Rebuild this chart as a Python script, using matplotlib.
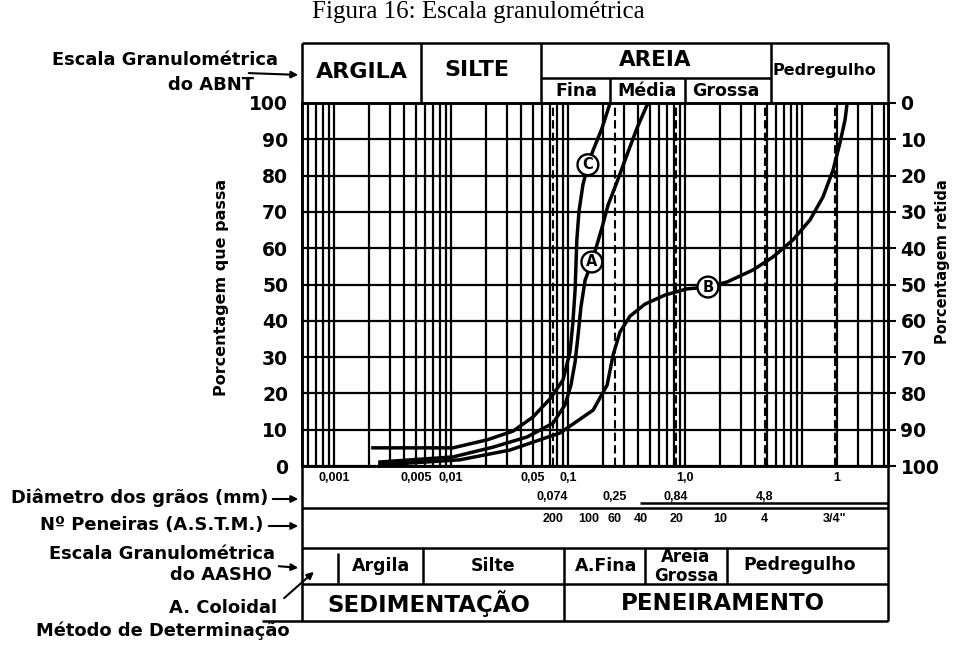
import numpy as np
import matplotlib.pyplot as plt
from matplotlib.ticker import LogLocator, NullFormatter
from matplotlib.transforms import blended_transform_factory

plt.rcParams['font.family'] = ['DejaVu Sans']

W, H = 956, 645

# curvas granulometricas (diametro em mm, % que passa)
diam_a = [0.00247, 0.0104, 0.0229, 0.0447, 0.0744, 0.0942, 0.106, 0.115, 0.122,
          0.129, 0.140, 0.160, 0.195, 0.220, 0.262, 0.319, 0.389, 0.473, 0.50]
pass_a = [1.1, 2.5, 5.2, 8.0, 11.8, 16.8, 22.3, 28.7, 36.1,
          43.8, 51.2, 56.2, 65.6, 71.9, 78.2, 85.7, 93.1, 99.4, 100]

diam_b = [0.00247, 0.0119, 0.0319, 0.0855, 0.164, 0.216, 0.243, 0.278, 0.339,
          0.455, 0.675, 1.04, 1.57, 2.29, 3.81, 5.65, 8.38, 11.7, 15.1,
          18.4, 21.1, 23.3, 24.3]
pass_b = [0.3, 1.7, 4.4, 9.1, 15.4, 22.3, 30.6, 36.9, 41.3,
          44.6, 47.1, 48.8, 49.3, 50.7, 54.0, 57.6, 62.3, 67.8, 74.1,
          81.5, 89.0, 95.3, 100]

diam_c = [0.00215, 0.0104, 0.0203, 0.0339, 0.0502, 0.0702, 0.0906, 0.104, 0.110,
          0.115, 0.119, 0.124, 0.134, 0.148, 0.164, 0.195, 0.229]
pass_c = [5.0, 5.0, 7.2, 9.6, 13.5, 18.5, 23.7, 31.4, 39.4,
          48.5, 62.3, 70.0, 77.4, 83.0, 87.0, 93.0, 100]

# rotulos das curvas
rot_nomes = ['A', 'B', 'C']
rot_diam = [0.160, 1.57, 0.148]
rot_pass = [56.2, 49.3, 83.0]

# escalas de baixo
diam_ticks = [0.001, 0.005, 0.01, 0.05, 0.1, 1.0, 20]
diam_labels = ['0,001', '0,005', '0,01', '0,05', '0,1', '1,0', '1']
diam2_ticks = [0.074, 0.25, 0.84, 4.8]
diam2_labels = ['0,074', '0,25', '0,84', '4,8']
peneiras_diam = [0.074, 0.149, 0.25, 0.42, 0.84, 2.0, 4.76, 19.0]
peneiras_labels = ['200', '100', '60', '40', '20', '10', '4', '3/4"']

pct = np.arange(0, 101, 10)

fig = plt.figure(figsize=(W / 100, H / 100), dpi=100)

# eixo de fundo em pixels para a tabela e os textos
ov = fig.add_axes([0, 0, 1, 1])
ov.set_xlim(0, W)
ov.set_ylim(H, 0)
ov.axis('off')

L, R, T, B = 302, 888, 103, 466
ax = fig.add_axes([L / W, 1 - B / H, (R - L) / W, (B - T) / H])
ax.set_xscale('log')
ax.set_xlim(5.33e-4, 54.3)
ax.set_ylim(0, 100)
ax.xaxis.set_major_locator(LogLocator(base=10, numticks=20))
ax.xaxis.set_minor_locator(LogLocator(base=10, subs=np.arange(2, 10), numticks=20))
ax.xaxis.set_major_formatter(NullFormatter())
ax.xaxis.set_minor_formatter(NullFormatter())
ax.tick_params(axis='x', which='both', length=0)
ax.set_yticks(pct)
ax.tick_params(axis='y', length=0, pad=10, labelsize=13.5)
for t in ax.get_yticklabels():
    t.set_fontweight('bold')
ax.grid(True, which='both', color='black', lw=1.6)
for s in ax.spines.values():
    s.set_linewidth(1.8)

for d in [0.074, 0.25, 0.84, 4.8, 19.0]:
    ax.axvline(d, color='black', lw=1.5, ls=(0, (4, 2)))

ax.plot(diam_a, pass_a, color='black', lw=2.5, solid_joinstyle='round', zorder=4)
ax.plot(diam_b, pass_b, color='black', lw=2.5, solid_joinstyle='round', zorder=4)
ax.plot(diam_c, pass_c, color='black', lw=2.5, solid_joinstyle='round', zorder=4)
for n, d, p in zip(rot_nomes, rot_diam, rot_pass):
    ax.text(d, p, n, ha='center', va='center', fontsize=10.5, fontweight='bold', zorder=6,
            bbox=dict(boxstyle='circle,pad=0.2', fc='white', ec='black', lw=1.7))

ax2 = ax.twinx()
ax2.set_ylim(100, 0)
ax2.set_yticks(pct)
ax2.tick_params(axis='y', length=6, width=1.5, direction='out', pad=3, labelsize=13.5)
for t in ax2.get_yticklabels():
    t.set_fontweight('bold')
for s in ax2.spines.values():
    s.set_linewidth(1.8)

# tabela de cima
k = dict(color='black', lw=1.8, solid_capstyle='butt')
ov.plot([L, R], [43, 43], **k)
ov.plot([L, L], [43, 621], **k)
ov.plot([R, R], [43, 621], **k)
for x in [421, 541, 771]:
    ov.plot([x, x], [43, T], **k)
ov.plot([541, 771], [78, 78], **k)
for x in [610, 685]:
    ov.plot([x, x], [78, T], **k)

hb = dict(ha='center', va='center', fontweight='bold')
ov.text(362, 72, 'ARGILA', fontsize=16, **hb)
ov.text(477, 70, 'SILTE', fontsize=16, **hb)
ov.text(655, 60, 'AREIA', fontsize=15.5, **hb)
ov.text(576, 91, 'Fina', fontsize=12.5, **hb)
ov.text(647, 91, 'Média', fontsize=12.5, **hb)
ov.text(726, 91, 'Grossa', fontsize=12.5, **hb)
ov.text(824, 70, 'Pedregulho', fontsize=11.5, **hb)

# tabela de baixo
for y in [508, 548, 584]:
    ov.plot([L, R], [y, y], **k)
ov.plot([262, R], [621, 621], **k)
ov.plot([640, R], [503, 503], **k)
ov.plot([338, 338], [553, 583], **k)
for x in [423, 645, 727]:
    ov.plot([x, x], [548, 584], **k)
ov.plot([564, 564], [548, 621], **k)

ov.text(381, 566, 'Argila', fontsize=12.5, **hb)
ov.text(493, 566, 'Silte', fontsize=12.5, **hb)
ov.text(606, 566, 'A.Fina', fontsize=12.5, **hb)
ov.text(686, 557, 'Areia', fontsize=12, **hb)
ov.text(686, 576, 'Grossa', fontsize=12, **hb)
ov.text(800, 565, 'Pedregulho', fontsize=12.5, **hb)
ov.text(429, 604, 'SEDIMENTAÇÃO', fontsize=16.5, **hb)
ov.text(723, 604, 'PENEIRAMENTO', fontsize=16.5, **hb)

tr = blended_transform_factory(ax.transData, ov.transData)
for d, s in zip(diam_ticks, diam_labels):
    ax.text(d, 478, s, transform=tr, ha='center', va='center', fontsize=9,
            fontweight='bold', family='Liberation Sans')
for d, s in zip(diam2_ticks, diam2_labels):
    ax.text(d, 497, s, transform=tr, ha='center', va='center', fontsize=9,
            fontweight='bold', family='Liberation Sans')
for d, s in zip(peneiras_diam, peneiras_labels):
    ax.text(d, 519, s, transform=tr, ha='center', va='center', fontsize=9,
            fontweight='bold', family='Liberation Sans')

# textos da esquerda
lb = dict(ha='right', va='center', fontsize=12.9, fontweight='bold')
ov.text(278, 60, 'Escala Granulométrica', **lb)
ov.text(254, 85, 'do ABNT', **lb)
ov.text(268, 498, 'Diâmetro dos grãos (mm)', **lb)
ov.text(263, 525, 'Nº Peneiras (A.S.T.M.)', **lb)
ov.text(275, 554, 'Escala Granulométrica', **lb)
ov.text(272, 575, 'do AASHO', **lb)
ov.text(277, 608, 'A. Coloidal', **lb)
ov.text(290, 631, 'Método de Determinação', **lb)

ar = dict(arrowstyle='-|>', color='black', lw=1.5, mutation_scale=10)
ov.annotate('', xy=(301, 75), xytext=(246, 73), arrowprops=ar)
ov.annotate('', xy=(301, 499), xytext=(270, 499), arrowprops=ar)
ov.annotate('', xy=(301, 526), xytext=(266, 526), arrowprops=ar)
ov.annotate('', xy=(301, 568), xytext=(276, 566), arrowprops=ar)
ov.annotate('', xy=(316, 570), xytext=(282, 600), arrowprops=ar)

ov.text(222, 287, 'Porcentagem que passa', rotation=90, ha='center', va='center',
        fontsize=11.5, fontweight='bold')
ov.text(943, 262, 'Porcentagem retida', rotation=90, ha='center', va='center',
        fontsize=10.5, fontweight='bold')

fig.text(0.5, 1 - 12 / H, 'Figura 16: Escala granulométrica', ha='center', va='center',
         fontsize=18, family='Liberation Serif')

fig.savefig('out.png', dpi=100)
